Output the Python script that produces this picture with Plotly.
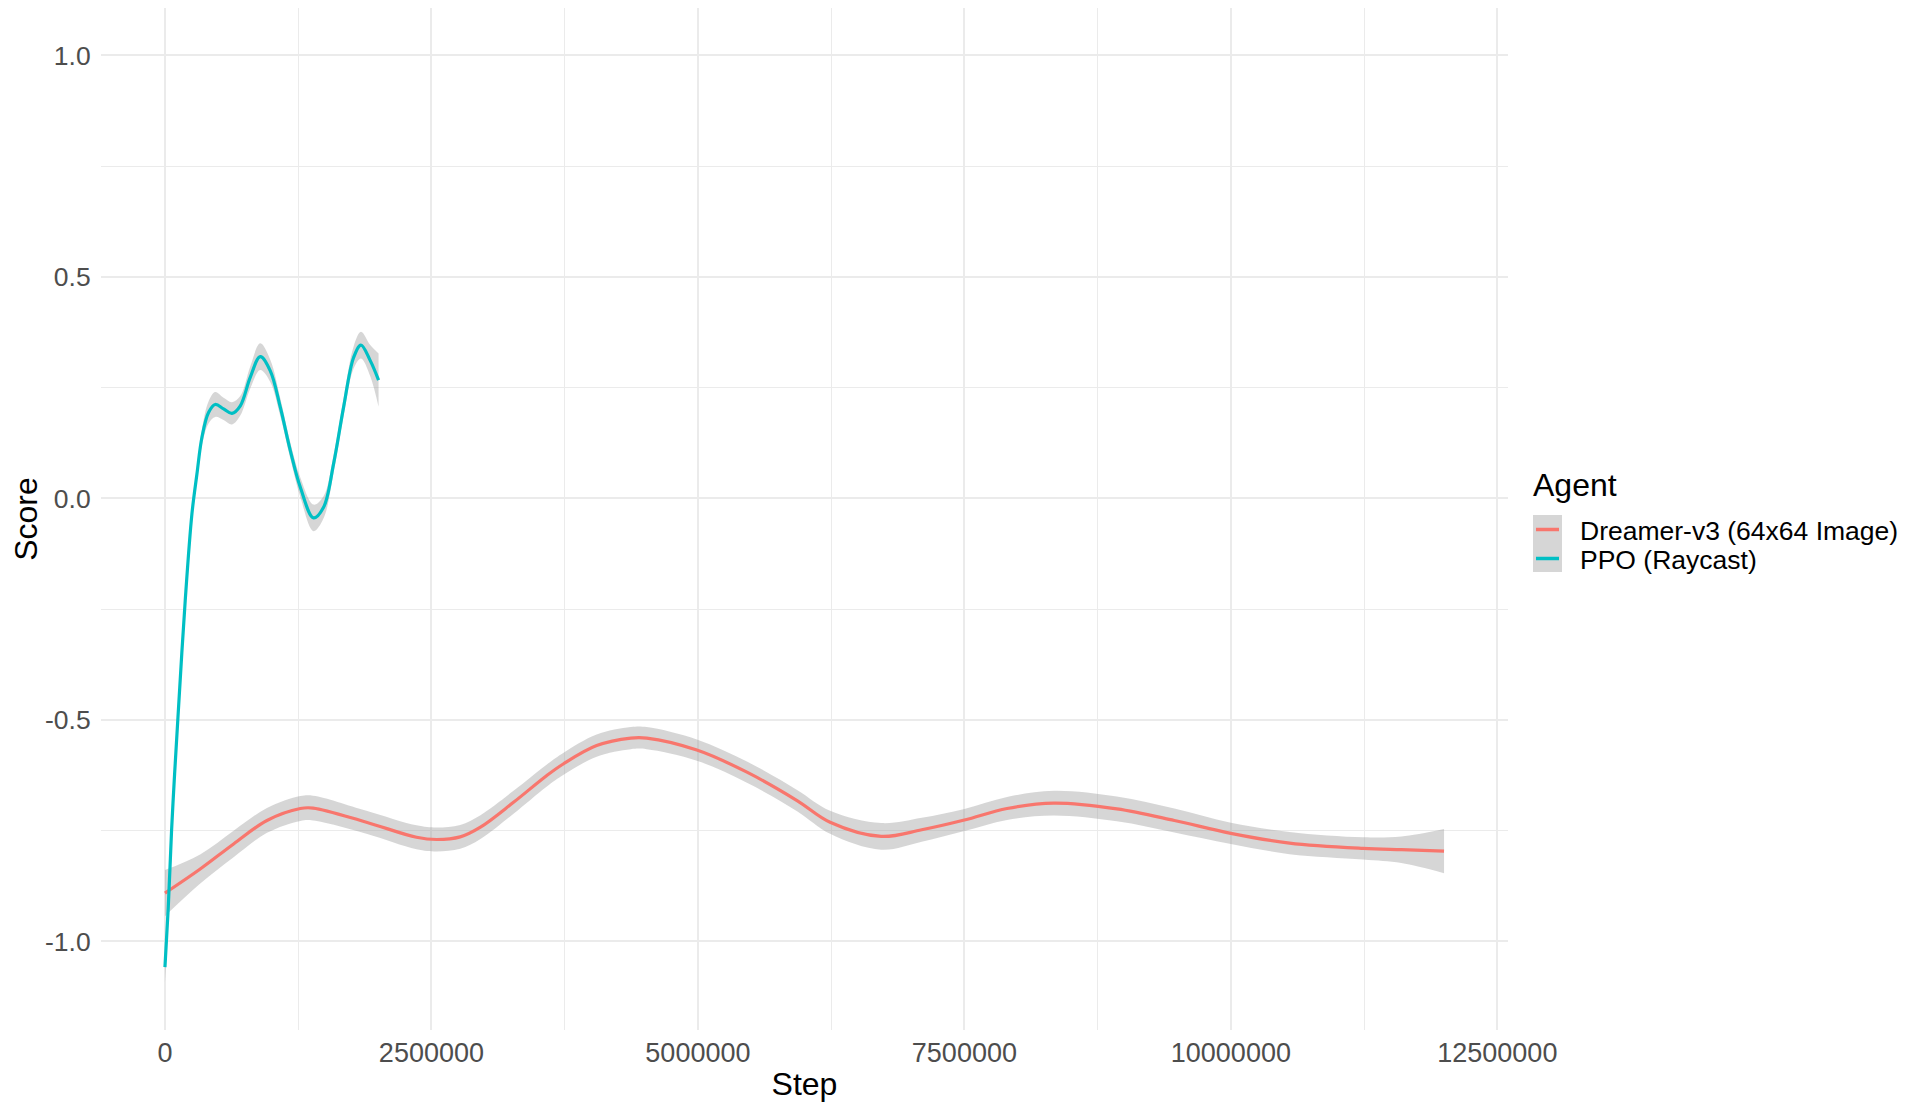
import plotly.graph_objects as go

# smoothed curves (step, score, half-width of the band)
dreamer_step = [0, 334000, 644000, 957000, 1270000, 1390000, 1890000, 2360000,
                2550000, 2770000, 2960000, 3270000, 3580000, 3740000, 4050000,
                4370000, 4520000, 4990000, 5460000, 5930000, 6240000, 6720000,
                7100000, 7500000, 7900000, 8340000, 8930000, 9470000, 10000000,
                10550000, 11240000, 11600000, 12000000]
dreamer_score = [-0.891, -0.836, -0.780, -0.727, -0.700, -0.699, -0.731, -0.765,
                 -0.770, -0.764, -0.742, -0.686, -0.626, -0.599, -0.558,
                 -0.541, -0.541, -0.568, -0.618, -0.682, -0.731, -0.763,
                 -0.748, -0.726, -0.700, -0.688, -0.701, -0.727, -0.756,
                 -0.778, -0.790, -0.793, -0.796]
dreamer_band = [0.052, 0.033, 0.030, 0.028, 0.028, 0.028, 0.026, 0.027,
                0.027, 0.027, 0.027, 0.026, 0.025, 0.025, 0.025,
                0.025, 0.025, 0.024, 0.024, 0.024, 0.026, 0.030,
                0.027, 0.025, 0.026, 0.028, 0.028, 0.027, 0.024,
                0.025, 0.025, 0.030, 0.050]

ppo_step = [0, 31000, 62000, 87000, 122000, 190000, 253000, 300000, 347000,
            409000, 472000, 550000, 629000, 707000, 800000, 894000, 988000,
            1082000, 1176000, 1270000, 1394000, 1488000, 1582000, 1676000,
            1770000, 1839000, 1926000, 2004000]
ppo_score = [-1.058, -0.923, -0.750, -0.637, -0.494, -0.231, -0.035, 0.055, 0.138,
             0.194, 0.212, 0.202, 0.192, 0.209, 0.273, 0.320, 0.288,
             0.206, 0.108, 0.025, -0.044, -0.020, 0.078, 0.206,
             0.318, 0.346, 0.311, 0.267]
ppo_band = [0.035, 0.030, 0.025, 0.022, 0.020, 0.015, 0.015, 0.015, 0.018,
            0.025, 0.028, 0.025, 0.025, 0.022, 0.025, 0.030, 0.025,
            0.020, 0.018, 0.022, 0.030, 0.025, 0.020, 0.020,
            0.025, 0.030, 0.035, 0.060]

agents = ["Dreamer-v3 (64x64 Image)", "PPO (Raycast)"]
colors = ["#F8766D", "#00BFC4"]
x_ticks = [0, 2500000, 5000000, 7500000, 10000000, 12500000]
y_ticks = [-1.0, -0.5, 0.0, 0.5, 1.0]
y_labels = ["-1.0", "-0.5", "0.0", "0.5", "1.0"]

band_fill = "rgba(153,153,153,0.4)"
font = "Liberation Sans, Arial, sans-serif"

W, H = 1913, 1109
OFF = 8  # page body margin the figure sits inside
L, R, T, B = 93, 413, 0, 87
PW, PH = W - L - R, H - T - B


def px(x):
    # page pixel -> paper x
    return (x - OFF - L) / PW


def py(y):
    # page pixel -> paper y
    return (T + PH - (y - OFF)) / PH


fig = go.Figure()
series = [(dreamer_step, dreamer_score, dreamer_band),
          (ppo_step, ppo_score, ppo_band)]
for name, col, (xs, ys, hw) in zip(agents, colors, series):
    upper = [y + h for y, h in zip(ys, hw)]
    lower = [y - h for y, h in zip(ys, hw)]
    fig.add_trace(go.Scatter(x=xs, y=upper, mode="lines", line=dict(width=0, shape="spline"),
                             showlegend=False, hoverinfo="skip"))
    fig.add_trace(go.Scatter(x=xs, y=lower, mode="lines", line=dict(width=0, shape="spline"),
                             fill="tonexty", fillcolor=band_fill,
                             showlegend=False, hoverinfo="skip"))
    fig.add_trace(go.Scatter(x=xs, y=ys, mode="lines", name=name, showlegend=False,
                             line=dict(color=col, width=3.2, shape="spline")))

# legend drawn ggplot-style: grey key block, coloured strokes, labels
fig.add_shape(type="rect", xref="paper", yref="paper",
              x0=px(1533), x1=px(1562), y0=py(572), y1=py(515),
              fillcolor="#D6D6D6", line_width=0)
fig.add_annotation(text="Agent", xref="paper", yref="paper", x=px(1531), y=py(485),
                   xanchor="left", yanchor="middle", showarrow=False,
                   font=dict(size=32, color="black"))
for i, (name, col) in enumerate(zip(agents, colors)):
    ky = 529.5 + 29 * i
    fig.add_shape(type="line", xref="paper", yref="paper",
                  x0=px(1536), x1=px(1559), y0=py(ky), y1=py(ky),
                  line=dict(color=col, width=3.5))
    fig.add_annotation(text=name, xref="paper", yref="paper", x=px(1578), y=py(ky + 1.5),
                       xanchor="left", yanchor="middle", showarrow=False,
                       font=dict(size=26.5, color="black"))

fig.update_layout(
    width=W, height=H,
    paper_bgcolor="white", plot_bgcolor="white",
    font=dict(family=font, color="black"),
    margin=dict(l=L, r=R, t=T, b=B),
    showlegend=False,
    xaxis=dict(
        range=[-600000, 12600000], tickvals=x_ticks, tickformat="d",
        showgrid=True, gridcolor="#EBEBEB", gridwidth=1.6,
        minor=dict(dtick=1250000, tick0=0, showgrid=True, gridcolor="#EBEBEB", gridwidth=0.9),
        zeroline=False, showline=False, automargin=False,
        ticks="", ticklabelstandoff=4, tickfont=dict(size=27, color="#4D4D4D"),
        title=dict(text="Step", font=dict(size=32, color="black"), standoff=5),
    ),
    yaxis=dict(
        range=[-1.2, 1.107], tickvals=y_ticks, ticktext=y_labels,
        showgrid=True, gridcolor="#EBEBEB", gridwidth=1.6,
        minor=dict(dtick=0.25, tick0=0, showgrid=True, gridcolor="#EBEBEB", gridwidth=0.9),
        zeroline=False, showline=False, automargin=False,
        ticks="outside", ticklen=4, tickcolor="rgba(0,0,0,0)",
        tickfont=dict(size=26.5, color="#4D4D4D"),
        title=dict(text="Score", font=dict(size=32, color="black"), standoff=2),
    ),
)

fig.write_html("out.html")
